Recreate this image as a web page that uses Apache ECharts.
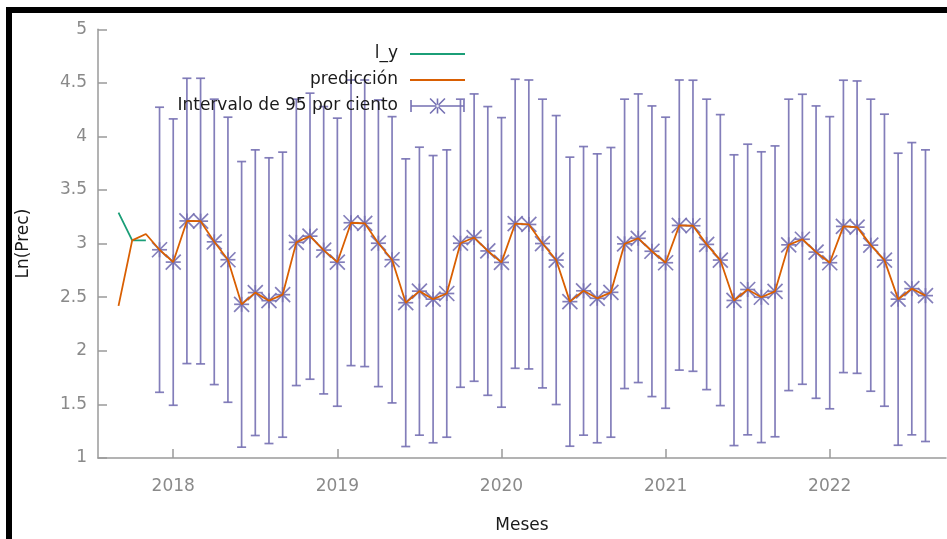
<!DOCTYPE html>
<html>
<head>
<meta charset="utf-8">
<script src="https://cdn.jsdelivr.net/npm/echarts@6/dist/echarts.min.js"></script>
<style>
html,body{margin:0;padding:0;background:#fff;}
#chart{width:947px;height:539px;}
</style>
</head>
<body>
<div id="chart"></div>
<script>
// ---- data ----
const lyMonths = ['2017-09', '2017-10', '2017-11'];
const lyValues = [3.29, 3.03, 3.03];

const predMonthsInSample = ['2017-09', '2017-10', '2017-11'];
const predValuesInSample = [2.42, 3.03, 3.09];

const fcMonths = [
  '2017-12',
  '2018-01','2018-02','2018-03','2018-04','2018-05','2018-06','2018-07','2018-08','2018-09','2018-10','2018-11','2018-12',
  '2019-01','2019-02','2019-03','2019-04','2019-05','2019-06','2019-07','2019-08','2019-09','2019-10','2019-11','2019-12',
  '2020-01','2020-02','2020-03','2020-04','2020-05','2020-06','2020-07','2020-08','2020-09','2020-10','2020-11','2020-12',
  '2021-01','2021-02','2021-03','2021-04','2021-05','2021-06','2021-07','2021-08','2021-09','2021-10','2021-11','2021-12',
  '2022-01','2022-02','2022-03','2022-04','2022-05','2022-06','2022-07','2022-08'
];
const fcCenter = [
  2.943,
  2.828, 3.212, 3.210, 3.017, 2.850, 2.434, 2.543, 2.468, 2.524, 3.012, 3.070, 2.940,
  2.827, 3.195, 3.190, 3.004, 2.850, 2.449, 2.557, 2.482, 2.535, 3.004, 3.057, 2.932,
  2.825, 3.186, 3.179, 3.001, 2.847, 2.459, 2.560, 2.490, 2.546, 2.998, 3.050, 2.929,
  2.822, 3.170, 3.167, 2.993, 2.847, 2.470, 2.572, 2.500, 2.555, 2.989, 3.041, 2.921,
  2.822, 3.161, 3.154, 2.986, 2.846, 2.482, 2.580, 2.515
];
const fcLow = [
  1.613,
  1.492, 1.881, 1.878, 1.685, 1.520, 1.101, 1.210, 1.135, 1.194, 1.676, 1.735, 1.598,
  1.483, 1.862, 1.853, 1.666, 1.514, 1.107, 1.213, 1.142, 1.194, 1.660, 1.716, 1.585,
  1.474, 1.837, 1.831, 1.654, 1.499, 1.110, 1.213, 1.142, 1.194, 1.648, 1.704, 1.573,
  1.464, 1.820, 1.809, 1.638, 1.489, 1.116, 1.216, 1.144, 1.198, 1.629, 1.688, 1.557,
  1.459, 1.797, 1.790, 1.623, 1.483, 1.119, 1.216, 1.154
];
const fcHigh = [
  4.273,
  4.164, 4.543, 4.543, 4.348, 4.180, 3.766, 3.875, 3.801, 3.854, 4.348, 4.404, 4.279,
  4.171, 4.527, 4.527, 4.341, 4.185, 3.791, 3.900, 3.822, 3.875, 4.348, 4.397, 4.279,
  4.176, 4.534, 4.527, 4.348, 4.195, 3.807, 3.906, 3.838, 3.897, 4.348, 4.397, 4.285,
  4.180, 4.527, 4.525, 4.348, 4.204, 3.829, 3.928, 3.857, 3.912, 4.348, 4.394, 4.285,
  4.185, 4.525, 4.518, 4.348, 4.208, 3.844, 3.943, 3.875
];

const xTickValues = [2018, 2019, 2020, 2021, 2022];
const yTickLabels = ['1', '1.5', '2', '2.5', '3', '3.5', '4', '4.5', '5'];

const seriesNames = ['l_y', 'predicción', 'Intervalo de 95 por ciento'];
const colors = ['#1b9e77', '#d95f02', '#7570b3'];

// ---- helpers ----
function monthToX(s) {
  const [y, m] = s.split('-').map(Number);
  return y + (m - 1) / 12;
}

const lyData = lyMonths.map((m, i) => [monthToX(m), lyValues[i]]);
const predData = predMonthsInSample.map((m, i) => [monthToX(m), predValuesInSample[i]])
  .concat(fcMonths.map((m, i) => [monthToX(m), fcCenter[i]]));
const intervalData = fcMonths.map((m, i) => [monthToX(m), fcCenter[i], fcLow[i], fcHigh[i]]);

const xMin = 2017 + 6.5 / 12;
const xMax = 2022 + 8.5 / 12;

// errorbar + asterisk legend icon (55 x 16 box)
function rectPath(x0, y0, x1, y1) {
  return `M${x0} ${y0}L${x1} ${y0}L${x1} ${y1}L${x0} ${y1}Z`;
}
function diagPath(ax, ay, bx, by, w) {
  const dx = bx - ax, dy = by - ay, L = Math.hypot(dx, dy);
  const nx = -dy / L * w / 2, ny = dx / L * w / 2;
  return `M${ax + nx} ${ay + ny}L${bx + nx} ${by + ny}L${bx - nx} ${by - ny}L${ax - nx} ${ay - ny}Z`;
}
const cx = 27.5, cy = 8, r = 7.5;
const iconPath = 'path://' +
  rectPath(0, 7.2, 55, 8.8) +
  rectPath(0, 2, 1.6, 14) +
  rectPath(53.4, 2, 55, 14) +
  rectPath(cx - 0.8, 0.5, cx + 0.8, 15.5) +
  diagPath(cx - r, cy - r, cx + r, cy + r, 1.6) +
  diagPath(cx - r, cy + r, cx + r, cy - r, 1.6);

function renderInterval(params, api) {
  const x = api.value(0), c = api.value(1), lo = api.value(2), hi = api.value(3);
  const pc = api.coord([x, c]);
  const pl = api.coord([x, lo]);
  const ph = api.coord([x, hi]);
  const cap = 4.5, s = 7.5;
  const st = { stroke: colors[2], lineWidth: 1.7, fill: null, opacity: 0.9 };
  const ln = (x1, y1, x2, y2) => ({ type: 'line', shape: { x1, y1, x2, y2 }, style: st });
  return {
    type: 'group',
    children: [
      ln(pc[0], ph[1], pc[0], pl[1]),
      ln(pc[0] - cap, ph[1], pc[0] + cap, ph[1]),
      ln(pc[0] - cap, pl[1], pc[0] + cap, pl[1]),
      ln(pc[0] - s, pc[1], pc[0] + s, pc[1]),
      ln(pc[0], pc[1] - s, pc[0], pc[1] + s),
      ln(pc[0] - s, pc[1] - s, pc[0] + s, pc[1] + s),
      ln(pc[0] - s, pc[1] + s, pc[0] + s, pc[1] - s)
    ]
  };
}

const FONT = 'DejaVu Sans';
const chart = echarts.init(document.getElementById('chart'), null, { renderer: 'canvas' });
chart.setOption({
  backgroundColor: '#ffffff',
  animation: false,
  textStyle: { fontFamily: FONT },
  grid: { left: 98, right: 1, top: 29.3, bottom: 80.5 },
  legend: {
    orient: 'vertical',
    align: 'right',
    right: 481,
    top: 44,
    padding: 0,
    itemGap: 6,
    itemWidth: 55,
    itemHeight: 16,
    textStyle: { fontSize: 17, color: '#1a1a1a', fontFamily: FONT, lineHeight: 20, padding: [0, 7, 0, 0] },
    data: [
      { name: seriesNames[0], itemStyle: { opacity: 0 } },
      { name: seriesNames[1], itemStyle: { opacity: 0 } },
      { name: seriesNames[2], icon: iconPath }
    ]
  },
  xAxis: {
    type: 'value',
    min: xMin,
    max: xMax,
    name: 'Meses',
    nameLocation: 'middle',
    nameGap: 59,
    nameTextStyle: { fontSize: 17, color: '#1a1a1a', fontFamily: FONT },
    axisLine: { show: true, lineStyle: { color: '#9a9a9a', width: 1.5 } },
    axisTick: { show: true, inside: true, length: 9, customValues: xTickValues, lineStyle: { color: '#9a9a9a', width: 1.5 } },
    axisLabel: { customValues: xTickValues, fontSize: 17, color: '#8a8a8a', margin: 20, formatter: v => String(Math.round(v)) },
    splitLine: { show: false }
  },
  yAxis: {
    type: 'value',
    min: 1,
    max: 5,
    interval: 0.5,
    name: 'Ln(Prec)',
    nameLocation: 'middle',
    nameRotate: 90,
    nameGap: 66,
    nameTextStyle: { fontSize: 17, color: '#1a1a1a', fontFamily: FONT },
    axisLine: { show: true, lineStyle: { color: '#9a9a9a', width: 1.5 } },
    axisTick: { show: true, inside: true, length: 9, lineStyle: { color: '#9a9a9a', width: 1.5 } },
    axisLabel: { fontSize: 17, color: '#8a8a8a', margin: 11,
      formatter: v => yTickLabels[Math.round((v - 1) * 2)] },
    splitLine: { show: false }
  },
  series: [
    {
      name: seriesNames[0], type: 'line', data: lyData, symbol: 'none',
      lineStyle: { color: colors[0], width: 1.8 }, itemStyle: { color: colors[0] }
    },
    {
      name: seriesNames[1], type: 'line', data: predData, symbol: 'none',
      lineStyle: { color: colors[1], width: 1.8 }, itemStyle: { color: colors[1] }
    },
    {
      name: seriesNames[2], type: 'custom', data: intervalData,
      renderItem: renderInterval,
      encode: { x: 0, y: [1, 2, 3] },
      itemStyle: { color: colors[2] }
    }
  ],
  graphic: [
    { type: 'rect', shape: { x: 6, y: 7, width: 941, height: 6 }, style: { fill: '#000' }, z: 100 },
    { type: 'rect', shape: { x: 6, y: 7, width: 6, height: 532 }, style: { fill: '#000' }, z: 100 }
  ]
});
</script>
</body>
</html>
